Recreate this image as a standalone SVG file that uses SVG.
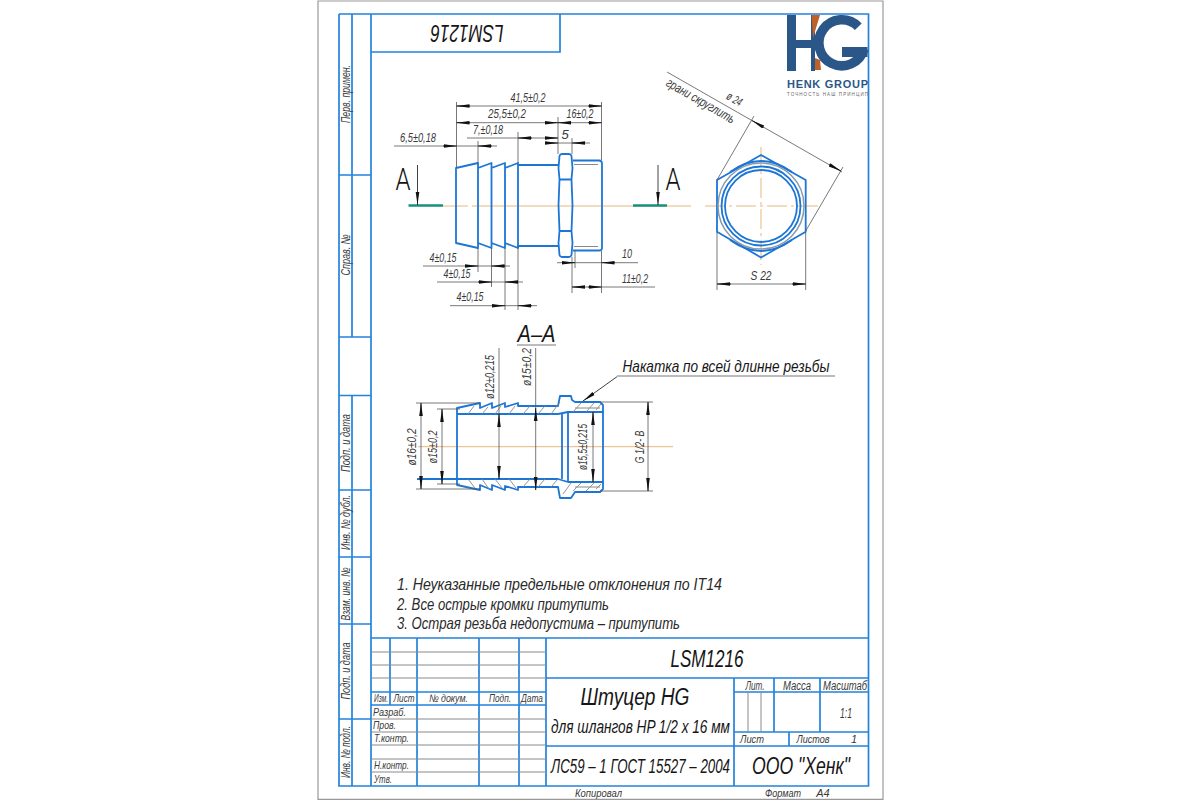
<svg xmlns="http://www.w3.org/2000/svg" width="1200" height="800" viewBox="0 0 1200 800">
<defs>
<marker id="ar" markerUnits="userSpaceOnUse" markerWidth="14" markerHeight="6" refX="13" refY="2.5" orient="auto"><path d="M0 .7L13 2.5L0 4.300Z" fill="#111"/></marker>
</defs>
<style>
.pg{fill:none;stroke:#999;stroke-width:1.200}
.f{fill:none;stroke:#2383dc;stroke-width:1.700}
.g{fill:none;stroke:#8a8a8a;stroke-width:1}
.p{fill:none;stroke:#1c76d6;stroke-width:1.800;stroke-linejoin:round}
.d{fill:none;stroke:#555;stroke-width:.8}
.h{fill:none;stroke:#888;stroke-width:.9}
.a{fill:none;stroke:#111;stroke-width:.8;marker-end:url(#ar)}
.c{fill:none;stroke:#e8b77c;stroke-width:1}
.m{fill:none;stroke:#17917f;stroke-width:2.600}
text{font-family:"Liberation Sans",Arial,sans-serif;font-style:italic;fill:#3a3a3a;text-anchor:middle;font-size:12px}
.s{font-size:11px}
.l{font-size:13px}
.t{fill:#161616}
.n{text-anchor:start;font-size:17px;fill:#2a2a2a}
.u{font-family:Roboto,"Liberation Sans",sans-serif;font-style:normal;font-weight:300;fill:#111;font-size:31px}
</style>
<rect width="1200" height="800" fill="#fff"/>
<path class="pg" d="M318 800V1H883V800M318 799.400H883"/>

<g id="frame">
<path class="f" d="M339 14H868.500V786H339V337H371M339 14V337M352 14V337M371 14V786M371 52H560V14M339 175H371M339 395.500H371M352 395.500V786M339 490H371M339 557H371M339 624H371M339 719H371"/>
<path class="f" d="M371 638H868.500M371 692H546M371 705H546M390 638V705M417 638V786M479 638V786M519 638V786M546 638V786M546 678H868.500M546 746H868.500M734 678V786M734 692H868.500M734 732H868.500M774 678V732M820 678V732M789 732V746"/>
<path class="g" d="M371 652H546M371 665H546M371 678H546M371 719H546M371 732H546M371 745H546M371 759H546M371 772H546M748 692V732M761 692V732"/>
</g>

<g id="frame-labels">
<g transform="translate(350 94) rotate(-90)"><text class="l" textLength="58" lengthAdjust="spacingAndGlyphs">Перв. примен.</text></g>
<g transform="translate(350 255) rotate(-90)"><text class="l" textLength="41" lengthAdjust="spacingAndGlyphs">Справ. №</text></g>
<g transform="translate(350 443) rotate(-90)"><text class="l" textLength="58" lengthAdjust="spacingAndGlyphs">Подп. и дата</text></g>
<g transform="translate(350 522.500) rotate(-90)"><text class="l" textLength="55" lengthAdjust="spacingAndGlyphs">Инв. № дубл.</text></g>
<g transform="translate(350 594) rotate(-90)"><text class="l" textLength="53" lengthAdjust="spacingAndGlyphs">Взам. инв. №</text></g>
<g transform="translate(350 671) rotate(-90)"><text class="l" textLength="57" lengthAdjust="spacingAndGlyphs">Подп. и дата</text></g>
<g transform="translate(350 752) rotate(-90)"><text class="l" textLength="52" lengthAdjust="spacingAndGlyphs">Инв. № подл.</text></g>
<g transform="translate(467 33) rotate(180)"><text class="t" y="8" style="font-size:23px" textLength="73" lengthAdjust="spacingAndGlyphs">LSM1216</text></g>
</g>

<g id="logo">
<path fill="#2a5788" d="M787 15H796V40H811V15H815V71H811V48H796V71H787Z"/>
<path fill="#bf5f2a" d="M811.500 15H820L813 38ZM815 58L820 60L821 70H815Z"/>
<path fill="none" stroke="#2a5788" stroke-width="9.500" d="M858.300 26.700A23 23 0 1 0 864 49"/>
<path fill="#2a5788" d="M842 47H867.500V57H842Z"/>
<text x="827.500" y="87.500" style="font-family:'Liberation Sans';font-style:normal;font-weight:bold;fill:#2a5788;font-size:11px" textLength="81">HENK GROUP</text>
<text x="827.500" y="95.500" style="font-family:'Liberation Sans';font-style:normal;fill:#666;font-size:4.500px" textLength="81">ТОЧНОСТЬ НАШ ПРИНЦИП</text>
</g>

<g id="side-view">
<path class="c" d="M442 206H468M472 206H691"/>
<path class="p" d="M456 168L478 163V248L456 243ZM478 168L491.500 163V248L478 243M491.500 168L505 163V248L491.500 243M505 168L518 163V248L505 243M518 165H558M518 246H558"/>
<path class="p" d="M562 154H569Q571 154 571.500 156L572.500 168L571.500 179.500L572.500 205L571.500 231L572.500 243L571.500 255Q571 257 569 257H562Q560 257 559.500 255L558.500 243L559.500 231L558.500 205L559.500 179.500L558.500 168L559.500 156Q560 154 562 154ZM559.500 179.500H571.500M559.500 231H571.500"/>
<path class="p" d="M573 160.500H599Q602 160.500 602 163.500V248Q602 250.500 599 250.500H573"/>
<path class="g" d="M574 164.500H598M574 246.500H598"/>
</g>

<g id="end-view">
<path class="c" stroke-dasharray="20 4 3 4" d="M705 206H818M761 147V265"/>
<path class="p" d="M761 155L805.700 180V231.700L761 257.500L717 231.700V180Z" stroke-width="1.500"/>
<circle cx="761" cy="206" r="36" class="p"/>
<circle cx="761" cy="206" r="39.500" class="p"/>
<circle cx="761" cy="206" r="43" fill="none" stroke="#8c9aa8" stroke-width="1.500"/>
<path class="p" d="M730 172Q761 150 792 172M730 240Q761 262 792 240" stroke-width="1.300"/>
</g>

<g id="section">
<path class="c" d="M418 446.700H673"/>
<path class="p" d="M457 408L480 403V408L492 403V408L505 403V407L518 403V406H558L560 396H571L572 400L575 402H600L603 405V489L600 492H575L571 498H560L558 487H518V490L505 486V490L492 485V490L480 485V490L457 485Z"/>
<path class="p" d="M457 414H558L568 412H603M457 479H558L568 482H603M417 479H457M562 414V479M568 412V482"/>
<path class="g" d="M575 408H600M575 487H600"/>
<path class="h" d="M468 414L474 406M482 414L488 407M495 414L501 406M509 414L515 406M523 414L530 406M538 414L545 406M551 414L560 402M573 412L581 403M586 412L594 403M596 410L601 404M468 479L475 488M482 479L489 489M495 479L502 488M509 479L516 488M523 487L530 479M538 487L545 479M551 487L558 479M563 494L571 483M573 491L581 483M586 491L594 483M596 489L601 484"/>
</g>

<g id="dimensions">
<path class="d" d="M456.500 102V168M601.500 102V160M558 117V154M518 132V163M478 141V163M572 138V154M478 248V272M491.500 248V287M505 248V310M518 246V310M572 257V293M575 251V268M601.500 251V293"/>
<path class="d" d="M456.500 106H601.500M456.500 122.700H601.500M467 138H558M545 143H590M394 146H497M423 266H510M437 282H523M450 305.700H537M557 262.700H638M572 287H655"/>
<path class="a" d="M470 106H456.500"/><path class="a" d="M588 106H601.500"/>
<path class="a" d="M470 122.700H456.500"/><path class="a" d="M545 122.700H558"/><path class="a" d="M571 122.700H558"/><path class="a" d="M588 122.700H601.500"/>
<path class="a" d="M532 138H518"/><path class="a" d="M545 138H558"/>
<path class="a" d="M545 143H558"/><path class="a" d="M585 143H572"/>
<path class="a" d="M443 146H456.500"/><path class="a" d="M492 146H478"/>
<path class="a" d="M465 266H478"/><path class="a" d="M505 266H491.500"/>
<path class="a" d="M478 282H491.500"/><path class="a" d="M518 282H505"/>
<path class="a" d="M492 305.700H505"/><path class="a" d="M532 305.700H518"/>
<path class="a" d="M562 262.700H575"/><path class="a" d="M615 262.700H601.500"/>
<path class="a" d="M585 287H572"/><path class="a" d="M588 287H601.500"/>
<path class="d" d="M667 72L842 172M717 180L754 116M805.700 231L843 167M717 232V290M805.700 232V290M717 284H805.700"/>
<path class="a" d="M764 127.500L752 120.500"/><path class="a" d="M829 164.500L841 171"/>
<path class="a" d="M731 284H717"/><path class="a" d="M792 284H805.700"/>
<path class="d" d="M416 403H480M416 489H480M437 409H460M437 484H460M421 403V489M442 409V484M499 348V479M535.700 348V490M593 412V482M600 402H653M600 491H653M648 402V491"/>
<path class="a" d="M421 416V403"/><path class="a" d="M421 476V489"/>
<path class="a" d="M442 422V409"/><path class="a" d="M442 471V484"/>
<path class="a" d="M499 427V414"/><path class="a" d="M499 466V479"/>
<path class="a" d="M535.700 421V408"/><path class="a" d="M535.700 477V490"/>
<path class="a" d="M593 425V412"/><path class="a" d="M593 469V482"/>
<path class="a" d="M648 415V402"/><path class="a" d="M648 478V491"/>
<path class="d" d="M835 376H617"/><path class="a" d="M617 376.700L583 401"/>
<path class="d" d="M517 345H556"/>
</g>

<g id="cut-marks">
<path class="m" d="M408.500 205.500H443M633 205.500H667"/>
<path class="a" d="M417.500 165V205"/><path class="a" d="M658 165V205"/>
<text class="u" x="403" y="190" textLength="15" lengthAdjust="spacingAndGlyphs">A</text><text class="u" x="673" y="190" textLength="15" lengthAdjust="spacingAndGlyphs">A</text>
</g>

<g id="dimension-labels">
<text class="l" x="528" y="102" textLength="35" lengthAdjust="spacingAndGlyphs">41,5±0,2</text>
<text class="l" x="507" y="118" textLength="38" lengthAdjust="spacingAndGlyphs">25,5±0,2</text>
<text class="l" x="580" y="118" textLength="27" lengthAdjust="spacingAndGlyphs">16±0,2</text>
<text class="l" x="488" y="134" textLength="30" lengthAdjust="spacingAndGlyphs">7,±0,18</text>
<text class="l" x="565" y="139">5</text>
<text class="l" x="418" y="142" textLength="36" lengthAdjust="spacingAndGlyphs">6,5±0,18</text>
<text class="l" x="443" y="262" textLength="27" lengthAdjust="spacingAndGlyphs">4±0,15</text>
<text class="l" x="457" y="278" textLength="27" lengthAdjust="spacingAndGlyphs">4±0,15</text>
<text class="l" x="470" y="301" textLength="27" lengthAdjust="spacingAndGlyphs">4±0,15</text>
<text class="l" x="627" y="258" textLength="10" lengthAdjust="spacingAndGlyphs">10</text>
<text class="l" x="635" y="283" textLength="26" lengthAdjust="spacingAndGlyphs">11±0,2</text>
<text class="l" x="761" y="280" textLength="21" lengthAdjust="spacingAndGlyphs">S 22</text>
<g transform="translate(734 100) rotate(30)"><text y="3" textLength="16" lengthAdjust="spacingAndGlyphs">ø 24</text></g>
<g transform="translate(700 102) rotate(30)"><text class="l" y="3" textLength="77" lengthAdjust="spacingAndGlyphs">грани скруглить</text></g>
<text class="t" x="536.500" y="342" style="font-size:24px" textLength="38" lengthAdjust="spacingAndGlyphs">А–А</text>
<text class="t" x="726" y="372" style="font-size:17px" textLength="207" lengthAdjust="spacingAndGlyphs">Накатка по всей длинне резьбы</text>
<g transform="translate(416 447) rotate(-90)"><text class="l" textLength="37" lengthAdjust="spacingAndGlyphs">ø16±0,2</text></g>
<g transform="translate(437 447) rotate(-90)"><text class="l" textLength="33" lengthAdjust="spacingAndGlyphs">ø15±0,2</text></g>
<g transform="translate(494 377) rotate(-90)"><text class="l" textLength="44" lengthAdjust="spacingAndGlyphs">ø12±0,215</text></g>
<g transform="translate(531 367) rotate(-90)"><text class="l" textLength="38" lengthAdjust="spacingAndGlyphs">ø15±0,2</text></g>
<g transform="translate(587 447) rotate(-90)"><text class="l" textLength="46" lengthAdjust="spacingAndGlyphs">ø15,5±0,215</text></g>
<g transform="translate(644 447) rotate(-90)"><text class="l" textLength="33" lengthAdjust="spacingAndGlyphs">G 1/2- B</text></g>
</g>

<g id="notes">
<text class="n" x="397" y="590" textLength="325" lengthAdjust="spacingAndGlyphs">1. Неуказанные предельные отклонения по IT14</text>
<text class="n" x="397" y="610" textLength="212" lengthAdjust="spacingAndGlyphs">2. Все острые кромки притупить</text>
<text class="n" x="397" y="629" textLength="283" lengthAdjust="spacingAndGlyphs">3. Острая резьба недопустима – притупить</text>
</g>

<g id="title-block">
<text class="t" x="707" y="667" style="font-size:24px" textLength="73" lengthAdjust="spacingAndGlyphs">LSM1216</text>
<text class="t" x="635" y="705" style="font-size:23px" textLength="109" lengthAdjust="spacingAndGlyphs">Штуцер HG</text>
<g transform="translate(640.500 733) scale(.76 1)"><text class="t" style="font-size:19px" textLength="235.500" lengthAdjust="spacingAndGlyphs">для шлангов HP 1/2 x 16 мм</text></g>
<g transform="translate(640.500 773) scale(.69 1)"><text class="t" style="font-size:21px" textLength="259.400" lengthAdjust="spacingAndGlyphs">ЛС59 – 1 ГОСТ 15527 – 2004</text></g>
<text class="t" x="801" y="774" style="font-size:23px" textLength="98" lengthAdjust="spacingAndGlyphs">ООО "Хенк"</text>
<text x="755" y="690" textLength="19" lengthAdjust="spacingAndGlyphs">Лит.</text>
<text x="797" y="690" textLength="28" lengthAdjust="spacingAndGlyphs">Масса</text>
<text x="845" y="690" textLength="44" lengthAdjust="spacingAndGlyphs">Масштаб</text>
<text x="846" y="718" style="font-size:15px" textLength="12" lengthAdjust="spacingAndGlyphs">1:1</text>
<text class="s" x="752" y="743" textLength="24" lengthAdjust="spacingAndGlyphs">Лист</text>
<text class="s" x="813" y="743" textLength="33" lengthAdjust="spacingAndGlyphs">Листов</text>
<text class="s" x="854" y="743">1</text>
<g transform="translate(381 702) scale(.65 1)"><text class="s" textLength="21.500" lengthAdjust="spacingAndGlyphs">Изм.</text></g>
<text class="s" x="404" y="702" textLength="21" lengthAdjust="spacingAndGlyphs">Лист</text>
<text class="s" x="448.500" y="702" textLength="39" lengthAdjust="spacingAndGlyphs">№ докум.</text>
<text class="s" x="500" y="702" textLength="22" lengthAdjust="spacingAndGlyphs">Подп.</text>
<text class="s" x="532" y="702" textLength="22" lengthAdjust="spacingAndGlyphs">Дата</text>
<text class="s" x="389.500" y="716" textLength="33" lengthAdjust="spacingAndGlyphs">Разраб.</text>
<text class="s" x="384.500" y="729" textLength="23" lengthAdjust="spacingAndGlyphs">Пров.</text>
<text class="s" x="391.500" y="742" textLength="35" lengthAdjust="spacingAndGlyphs">Т.контр.</text>
<text class="s" x="391.500" y="769" textLength="35" lengthAdjust="spacingAndGlyphs">Н.контр.</text>
<text class="s" x="383" y="783" textLength="18" lengthAdjust="spacingAndGlyphs">Утв.</text>
<text class="s" x="598.500" y="797" textLength="47" lengthAdjust="spacingAndGlyphs">Копировал</text>
<text class="s" x="783" y="797" textLength="36" lengthAdjust="spacingAndGlyphs">Формат</text>
<text class="s" x="823" y="797">А4</text>
</g>
</svg>
